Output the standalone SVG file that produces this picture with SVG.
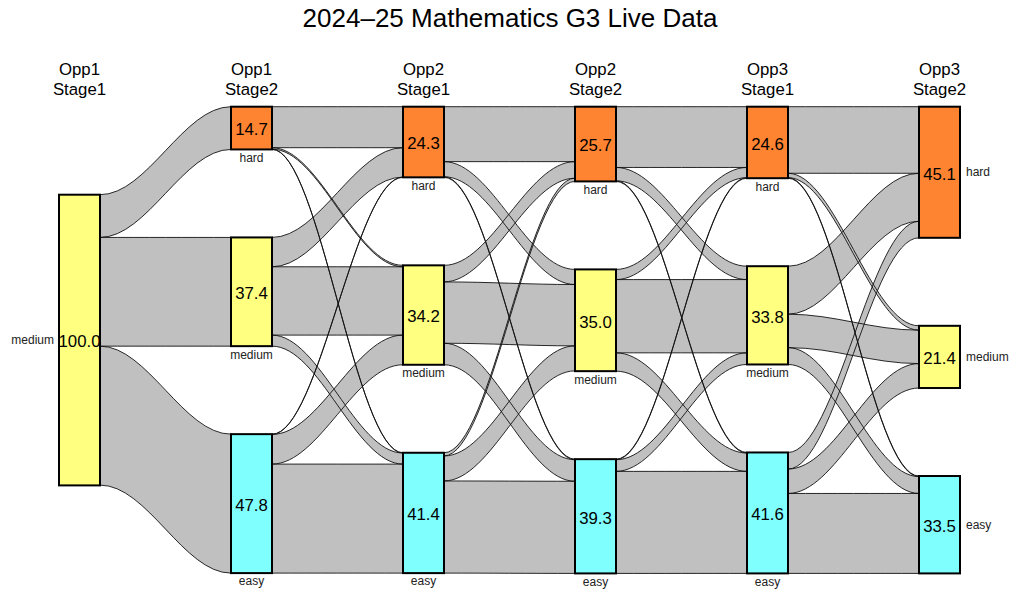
<svg xmlns="http://www.w3.org/2000/svg" xmlns:xlink="http://www.w3.org/1999/xlink" width="1010" height="590" viewBox="0 0 1010 590">
  <style>
    text { font-family: "Liberation Sans", Arial, sans-serif; fill: #000; }
    .title { font-size: 26px; text-anchor: middle; }
    .head { font-size: 16.8px; text-anchor: middle; }
    .val { font-size: 16.8px; text-anchor: middle; }
    .cat { font-size: 12px; fill: #222; text-anchor: middle; }
    .cat-l { font-size: 12px; fill: #222; text-anchor: end; }
    .cat-r { font-size: 12px; fill: #222; text-anchor: start; }
    .node rect { stroke: #000; stroke-width: 2; }
    .hard rect { fill: #FF8432; }
    .medium rect { fill: #FFFF80; }
    .easy rect { fill: #80FFFF; }
    .ribbon-fill use { fill: #C0C0C0; stroke: none; }
    .ribbon-line use { fill: none; stroke: #111; stroke-width: 0.9; }
  </style>
  <defs>
    <!-- stage 1 of opportunity 1 to stage 2 -->
    <path id="f0_mh" d="M100,194.7 C147.6,194.7 183.4,106.7 231,106.7 V149.43 C183.4,149.43 147.6,237.43 100,237.43 Z"/>
    <path id="f0_mm" d="M100,237.43 C147.6,237.43 183.4,237.43 231,237.43 V346.15 C183.4,346.15 147.6,346.15 100,346.15 Z"/>
    <path id="f0_me" d="M100,346.15 C147.6,346.15 183.4,434.15 231,434.15 V573.1 C183.4,573.1 147.6,485.1 100,485.1 Z"/>
    <!-- opp1 stage2 to opp2 stage1 -->
    <path id="f1_hh" d="M272,106.7 C319.6,106.7 355.4,106.7 403,106.7 V147.69 C355.4,147.69 319.6,147.69 272,147.69 Z"/>
    <path id="f1_hm" d="M272,147.69 C319.6,147.69 355.4,265.34 403,265.34 V266.79 C355.4,266.79 319.6,149.14 272,149.14 Z"/>
    <path id="f1_he" d="M272,149.14 C319.6,149.14 355.4,452.76 403,452.76 V453.05 C355.4,453.05 319.6,149.43 272,149.43 Z"/>
    <path id="f1_mh" d="M272,237.43 C319.6,237.43 355.4,147.69 403,147.69 V177.05 C355.4,177.05 319.6,266.79 272,266.79 Z"/>
    <path id="f1_mm" d="M272,266.79 C319.6,266.79 355.4,266.79 403,266.79 V335.1 C355.4,335.1 319.6,335.1 272,335.1 Z"/>
    <path id="f1_me" d="M272,335.1 C319.6,335.1 355.4,453.05 403,453.05 V464.1 C355.4,464.1 319.6,346.15 272,346.15 Z"/>
    <path id="f1_eh" d="M272,434.15 C319.6,434.15 355.4,177.05 403,177.05 V177.34 C355.4,177.34 319.6,434.44 272,434.44 Z"/>
    <path id="f1_em" d="M272,434.44 C319.6,434.44 355.4,335.1 403,335.1 V364.75 C355.4,364.75 319.6,464.09 272,464.09 Z"/>
    <path id="f1_ee" d="M272,464.09 C319.6,464.09 355.4,464.1 403,464.1 V573.11 C355.4,573.11 319.6,573.1 272,573.1 Z"/>
    <!-- opp2 stage1 to opp2 stage2 -->
    <path id="f2_hh" d="M444,106.7 C491.6,106.7 527.4,106.7 575,106.7 V161.64 C527.4,161.64 491.6,161.64 444,161.64 Z"/>
    <path id="f2_hm" d="M444,161.64 C491.6,161.64 527.4,269.41 575,269.41 V284.53 C527.4,284.53 491.6,176.76 444,176.76 Z"/>
    <path id="f2_he" d="M444,176.76 C491.6,176.76 527.4,459.16 575,459.16 V459.74 C527.4,459.74 491.6,177.34 444,177.34 Z"/>
    <path id="f2_mh" d="M444,265.34 C491.6,265.34 527.4,161.64 575,161.64 V178.21 C527.4,178.21 491.6,281.91 444,281.91 Z"/>
    <path id="f2_mm" d="M444,281.91 C491.6,281.91 527.4,284.53 575,284.53 V345.87 C527.4,345.87 491.6,343.25 444,343.25 Z"/>
    <path id="f2_me" d="M444,343.25 C491.6,343.25 527.4,459.74 575,459.74 V481.25 C527.4,481.25 491.6,364.76 444,364.76 Z"/>
    <path id="f2_eh" d="M444,452.76 C491.6,452.76 527.4,178.21 575,178.21 V181.41 C527.4,181.41 491.6,455.96 444,455.96 Z"/>
    <path id="f2_em" d="M444,455.96 C491.6,455.96 527.4,345.87 575,345.87 V370.87 C527.4,370.87 491.6,480.96 444,480.96 Z"/>
    <path id="f2_ee" d="M444,480.96 C491.6,480.96 527.4,481.25 575,481.25 V573.4 C527.4,573.4 491.6,573.11 444,573.11 Z"/>
    <!-- opp2 stage2 to opp3 stage1 -->
    <path id="f3_hh" d="M616,106.7 C663.6,106.7 699.4,106.7 747,106.7 V167.46 C699.4,167.46 663.6,167.46 616,167.46 Z"/>
    <path id="f3_hm" d="M616,167.46 C663.6,167.46 699.4,266.21 747,266.21 V279.58 C699.4,279.58 663.6,180.83 616,180.83 Z"/>
    <path id="f3_he" d="M616,180.83 C663.6,180.83 699.4,452.47 747,452.47 V453.05 C699.4,453.05 663.6,181.41 616,181.41 Z"/>
    <path id="f3_mh" d="M616,269.41 C663.6,269.41 699.4,167.46 747,167.46 V177.63 C699.4,177.63 663.6,279.58 616,279.58 Z"/>
    <path id="f3_mm" d="M616,279.58 C663.6,279.58 699.4,279.58 747,279.58 V352.84 C699.4,352.84 663.6,352.84 616,352.84 Z"/>
    <path id="f3_me" d="M616,352.84 C663.6,352.84 699.4,453.05 747,453.05 V471.36 C699.4,471.36 663.6,371.15 616,371.15 Z"/>
    <path id="f3_eh" d="M616,459.16 C663.6,459.16 699.4,177.63 747,177.63 V178.21 C699.4,178.21 663.6,459.74 616,459.74 Z"/>
    <path id="f3_em" d="M616,459.74 C663.6,459.74 699.4,352.84 747,352.84 V364.47 C699.4,364.47 663.6,471.37 616,471.37 Z"/>
    <path id="f3_ee" d="M616,471.37 C663.6,471.37 699.4,471.36 747,471.36 V573.4 C699.4,573.4 663.6,573.41 616,573.41 Z"/>
    <!-- opp3 stage1 to opp3 stage2 -->
    <path id="f4_hh" d="M788,106.7 C835.6,106.7 871.4,106.7 919,106.7 V173.27 C871.4,173.27 835.6,173.27 788,173.27 Z"/>
    <path id="f4_hm" d="M788,173.27 C835.6,173.27 871.4,325.81 919,325.81 V330.17 C871.4,330.17 835.6,177.63 788,177.63 Z"/>
    <path id="f4_he" d="M788,177.63 C835.6,177.63 871.4,476.02 919,476.02 V476.6 C871.4,476.6 835.6,178.21 788,178.21 Z"/>
    <path id="f4_mh" d="M788,266.21 C835.6,266.21 871.4,173.27 919,173.27 V221.24 C871.4,221.24 835.6,314.18 788,314.18 Z"/>
    <path id="f4_mm" d="M788,314.18 C835.6,314.18 871.4,330.17 919,330.17 V363.6 C871.4,363.6 835.6,347.61 788,347.61 Z"/>
    <path id="f4_me" d="M788,347.61 C835.6,347.61 871.4,476.6 919,476.6 V493.46 C871.4,493.46 835.6,364.47 788,364.47 Z"/>
    <path id="f4_eh" d="M788,452.47 C835.6,452.47 871.4,221.24 919,221.24 V237.81 C871.4,237.81 835.6,469.04 788,469.04 Z"/>
    <path id="f4_em" d="M788,469.04 C835.6,469.04 871.4,363.6 919,363.6 V388.02 C871.4,388.02 835.6,493.46 788,493.46 Z"/>
    <path id="f4_ee" d="M788,493.46 C835.6,493.46 871.4,493.46 919,493.46 V573.4 C871.4,573.4 835.6,573.4 788,573.4 Z"/>
  </defs>

  <rect width="1010" height="590" fill="#fff"/>

  <text class="title" x="510" y="27">2024–25 Mathematics G3 Live Data</text>

  <!-- column headings -->
  <g id="headings">
    <text class="head" x="79.5" y="75">Opp1</text><text class="head" x="79.5" y="95">Stage1</text>
    <text class="head" x="251.5" y="75">Opp1</text><text class="head" x="251.5" y="95">Stage2</text>
    <text class="head" x="423.5" y="75">Opp2</text><text class="head" x="423.5" y="95">Stage1</text>
    <text class="head" x="595.5" y="75">Opp2</text><text class="head" x="595.5" y="95">Stage2</text>
    <text class="head" x="767.5" y="75">Opp3</text><text class="head" x="767.5" y="95">Stage1</text>
    <text class="head" x="939.5" y="75">Opp3</text><text class="head" x="939.5" y="95">Stage2</text>
  </g>

  <!-- ribbons: fills first, then all outlines so crossings stay visible -->
  <g id="connectors">
    <g class="ribbon-fill">
      <use xlink:href="#f0_mh"/><use xlink:href="#f0_mm"/><use xlink:href="#f0_me"/>
      <use xlink:href="#f1_hh"/><use xlink:href="#f1_hm"/><use xlink:href="#f1_he"/>
      <use xlink:href="#f1_mh"/><use xlink:href="#f1_mm"/><use xlink:href="#f1_me"/>
      <use xlink:href="#f1_eh"/><use xlink:href="#f1_em"/><use xlink:href="#f1_ee"/>
      <use xlink:href="#f2_hh"/><use xlink:href="#f2_hm"/><use xlink:href="#f2_he"/>
      <use xlink:href="#f2_mh"/><use xlink:href="#f2_mm"/><use xlink:href="#f2_me"/>
      <use xlink:href="#f2_eh"/><use xlink:href="#f2_em"/><use xlink:href="#f2_ee"/>
      <use xlink:href="#f3_hh"/><use xlink:href="#f3_hm"/><use xlink:href="#f3_he"/>
      <use xlink:href="#f3_mh"/><use xlink:href="#f3_mm"/><use xlink:href="#f3_me"/>
      <use xlink:href="#f3_eh"/><use xlink:href="#f3_em"/><use xlink:href="#f3_ee"/>
      <use xlink:href="#f4_hh"/><use xlink:href="#f4_hm"/><use xlink:href="#f4_he"/>
      <use xlink:href="#f4_mh"/><use xlink:href="#f4_mm"/><use xlink:href="#f4_me"/>
      <use xlink:href="#f4_eh"/><use xlink:href="#f4_em"/><use xlink:href="#f4_ee"/>
    </g>
    <g class="ribbon-line">
      <use xlink:href="#f0_mh"/><use xlink:href="#f0_mm"/><use xlink:href="#f0_me"/>
      <use xlink:href="#f1_hh"/><use xlink:href="#f1_hm"/><use xlink:href="#f1_he"/>
      <use xlink:href="#f1_mh"/><use xlink:href="#f1_mm"/><use xlink:href="#f1_me"/>
      <use xlink:href="#f1_eh"/><use xlink:href="#f1_em"/><use xlink:href="#f1_ee"/>
      <use xlink:href="#f2_hh"/><use xlink:href="#f2_hm"/><use xlink:href="#f2_he"/>
      <use xlink:href="#f2_mh"/><use xlink:href="#f2_mm"/><use xlink:href="#f2_me"/>
      <use xlink:href="#f2_eh"/><use xlink:href="#f2_em"/><use xlink:href="#f2_ee"/>
      <use xlink:href="#f3_hh"/><use xlink:href="#f3_hm"/><use xlink:href="#f3_he"/>
      <use xlink:href="#f3_mh"/><use xlink:href="#f3_mm"/><use xlink:href="#f3_me"/>
      <use xlink:href="#f3_eh"/><use xlink:href="#f3_em"/><use xlink:href="#f3_ee"/>
      <use xlink:href="#f4_hh"/><use xlink:href="#f4_hm"/><use xlink:href="#f4_he"/>
      <use xlink:href="#f4_mh"/><use xlink:href="#f4_mm"/><use xlink:href="#f4_me"/>
      <use xlink:href="#f4_eh"/><use xlink:href="#f4_em"/><use xlink:href="#f4_ee"/>
    </g>
  </g>

  <!-- nodes -->
  <g id="opp1_s1_medium" class="node medium">
    <rect x="59" y="194.7" width="41" height="290.7"/>
    <text class="val" x="79.5" y="347.3">100.0</text>
    <text class="cat-l" x="54" y="344">medium</text>
  </g>

  <g id="opp1_s2_hard" class="node hard">
    <rect x="231" y="106.7" width="41" height="42.73"/>
    <text class="val" x="251.5" y="135.4">14.7</text>
    <text class="cat" x="251.5" y="161.7">hard</text>
  </g>
  <g id="opp1_s2_medium" class="node medium">
    <rect x="231" y="237.43" width="41" height="108.72"/>
    <text class="val" x="251.5" y="299.1">37.4</text>
    <text class="cat" x="251.5" y="358.5">medium</text>
  </g>
  <g id="opp1_s2_easy" class="node easy">
    <rect x="231" y="434.15" width="41" height="138.95"/>
    <text class="val" x="251.5" y="510.9">47.8</text>
    <text class="cat" x="251.5" y="585.4">easy</text>
  </g>

  <g id="opp2_s1_hard" class="node hard">
    <rect x="403" y="106.7" width="41" height="70.64"/>
    <text class="val" x="423.5" y="149.3">24.3</text>
    <text class="cat" x="423.5" y="189.6">hard</text>
  </g>
  <g id="opp2_s1_medium" class="node medium">
    <rect x="403" y="265.34" width="41" height="99.42"/>
    <text class="val" x="423.5" y="322.4">34.2</text>
    <text class="cat" x="423.5" y="377.1">medium</text>
  </g>
  <g id="opp2_s1_easy" class="node easy">
    <rect x="403" y="452.76" width="41" height="120.35"/>
    <text class="val" x="423.5" y="520.2">41.4</text>
    <text class="cat" x="423.5" y="585.4">easy</text>
  </g>

  <g id="opp2_s2_hard" class="node hard">
    <rect x="575" y="106.7" width="41" height="74.71"/>
    <text class="val" x="595.5" y="151.4">25.7</text>
    <text class="cat" x="595.5" y="193.7">hard</text>
  </g>
  <g id="opp2_s2_medium" class="node medium">
    <rect x="575" y="269.41" width="41" height="101.75"/>
    <text class="val" x="595.5" y="327.6">35.0</text>
    <text class="cat" x="595.5" y="383.5">medium</text>
  </g>
  <g id="opp2_s2_easy" class="node easy">
    <rect x="575" y="459.16" width="41" height="114.25"/>
    <text class="val" x="595.5" y="523.6">39.3</text>
    <text class="cat" x="595.5" y="585.7">easy</text>
  </g>

  <g id="opp3_s1_hard" class="node hard">
    <rect x="747" y="106.7" width="41" height="71.51"/>
    <text class="val" x="767.5" y="149.8">24.6</text>
    <text class="cat" x="767.5" y="190.5">hard</text>
  </g>
  <g id="opp3_s1_medium" class="node medium">
    <rect x="747" y="266.21" width="41" height="98.26"/>
    <text class="val" x="767.5" y="322.6">33.8</text>
    <text class="cat" x="767.5" y="376.8">medium</text>
  </g>
  <g id="opp3_s1_easy" class="node easy">
    <rect x="747" y="452.47" width="41" height="120.93"/>
    <text class="val" x="767.5" y="520.2">41.6</text>
    <text class="cat" x="767.5" y="585.7">easy</text>
  </g>

  <g id="opp3_s2_hard" class="node hard">
    <rect x="919" y="106.7" width="41" height="131.11"/>
    <text class="val" x="939.5" y="179.6">45.1</text>
    <text class="cat-r" x="966" y="176.3">hard</text>
  </g>
  <g id="opp3_s2_medium" class="node medium">
    <rect x="919" y="325.81" width="41" height="62.21"/>
    <text class="val" x="939.5" y="364.2">21.4</text>
    <text class="cat-r" x="966" y="360.9">medium</text>
  </g>
  <g id="opp3_s2_easy" class="node easy">
    <rect x="919" y="476.02" width="41" height="97.38"/>
    <text class="val" x="939.5" y="532">33.5</text>
    <text class="cat-r" x="966" y="528.7">easy</text>
  </g>
</svg>
